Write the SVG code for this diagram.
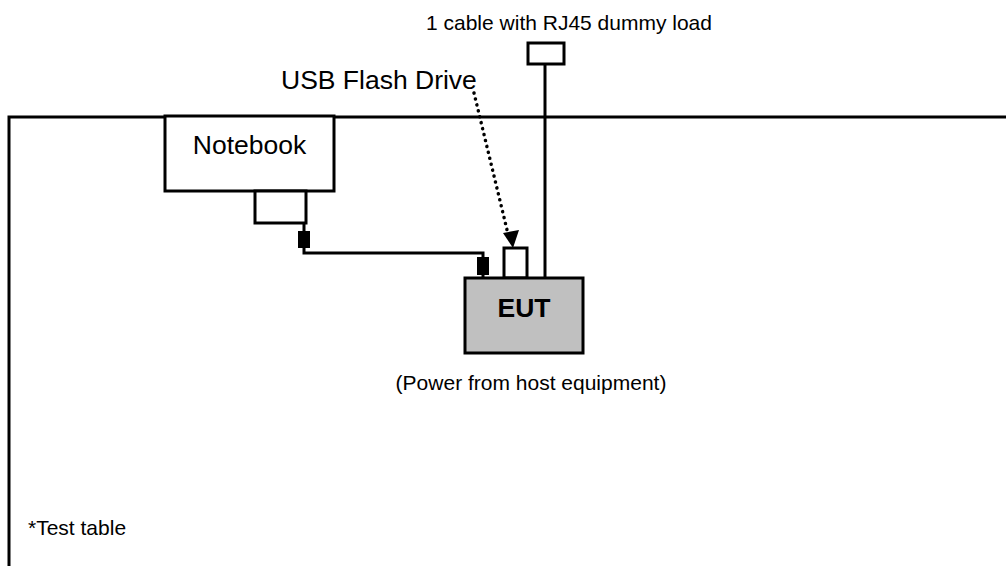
<svg xmlns="http://www.w3.org/2000/svg" width="1006" height="566" viewBox="0 0 1006 566">
<style>
.ln{fill:none;stroke:#000;stroke-width:3}
.bx{fill:#fff;stroke:#000;stroke-width:3}
.t{font-family:"Liberation Sans",Arial,sans-serif;fill:#000}
.s{font-size:21px}
.l{font-size:26.5px}
</style>
<rect width="1006" height="566" fill="#fff"/>
<g id="table">
<path class="ln" d="M9,566 V117 H1006"/>
<text class="t s" x="28" y="535">*Test table</text>
</g>
<g id="connectors">
<path class="ln" d="M304,223 V253 H483 V278"/>
<rect x="298" y="231" width="12" height="17" fill="#000"/>
<rect x="477" y="257" width="12" height="18" fill="#000"/>
<path class="ln" d="M545,64 V278"/>
<path fill="none" stroke="#000" stroke-width="3.5" stroke-dasharray="0.1 6" stroke-linecap="round" d="M474,93 L508,234"/>
<path d="M503,233 L519,230 L513,248 z" fill="#000"/>
</g>
<g id="notebook">
<rect class="bx" x="165" y="116" width="169" height="75"/>
<text class="t l" x="249.5" y="154" text-anchor="middle">Notebook</text>
<rect class="bx" x="255" y="191" width="51" height="32"/>
</g>
<g id="rj45">
<rect class="bx" x="528" y="43" width="36" height="21"/>
<text class="t s" x="569" y="30" text-anchor="middle">1 cable with RJ45 dummy load</text>
</g>
<g id="usb">
<rect class="bx" x="504" y="248" width="23" height="30"/>
<text class="t l" x="281" y="89">USB Flash Drive</text>
</g>
<g id="eut">
<rect x="465" y="278" width="118" height="75" fill="#c0c0c0" stroke="#000" stroke-width="3"/>
<text class="t l" x="524" y="317" font-weight="bold" text-anchor="middle">EUT</text>
<text class="t s" x="531" y="390" text-anchor="middle">(Power from host equipment)</text>
</g>
</svg>
